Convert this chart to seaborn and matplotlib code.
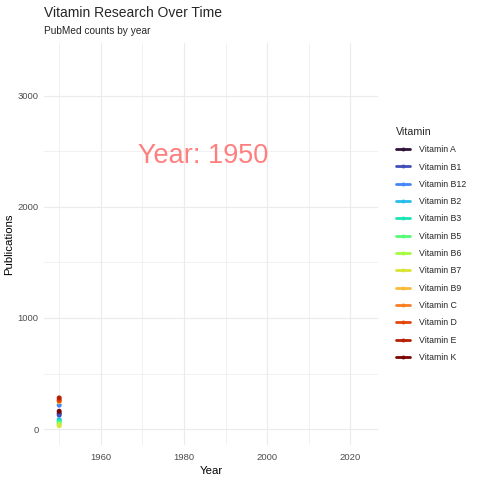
import numpy as np
import pandas as pd
import seaborn as sns
import matplotlib.pyplot as plt
from matplotlib.lines import Line2D
from matplotlib.ticker import MultipleLocator

# Frame of the animation: only year 1950 revealed so far
vitamins = ["Vitamin A", "Vitamin B1", "Vitamin B12", "Vitamin B2", "Vitamin B3",
            "Vitamin B5", "Vitamin B6", "Vitamin B7", "Vitamin B9", "Vitamin C",
            "Vitamin D", "Vitamin E", "Vitamin K"]
years = [1950] * 13
publications = [140, 125, 215, 85, 70, 55, 40, 30, 245, 265, 255, 280, 160]
frame_year = 1950

df = pd.DataFrame({"Year": years, "Vitamin": vitamins, "Publications": publications})

sns.set_theme(style="whitegrid")
plt.rcParams["font.family"] = ["Liberation Sans", "DejaVu Sans"]

colors = plt.get_cmap("turbo")(np.linspace(0, 1, len(vitamins)))
palette = dict(zip(vitamins, colors))

fig = plt.figure(figsize=(4.8, 4.8), dpi=100)
ax = fig.add_axes([44 / 480, 1 - 445 / 480, 334 / 480, 402 / 480])

sns.lineplot(data=df, x="Year", y="Publications", hue="Vitamin", palette=palette,
             linewidth=1, ax=ax, legend=False)
sns.scatterplot(data=df, x="Year", y="Publications", hue="Vitamin", palette=palette,
                s=13, linewidth=0, ax=ax, legend=False, zorder=3)

ax.set_xlim(1946.35, 2026.65)
ax.set_ylim(-144, 3477)
ax.xaxis.set_major_locator(MultipleLocator(20))
ax.xaxis.set_minor_locator(MultipleLocator(10))
ax.yaxis.set_major_locator(MultipleLocator(1000))
ax.yaxis.set_minor_locator(MultipleLocator(500))
ax.set_facecolor("white")
ax.grid(which="major", color="#EBEBEB", linewidth=0.8)
ax.grid(which="minor", color="#EBEBEB", linewidth=0.5)
for s in ax.spines.values():
    s.set_visible(False)
ax.tick_params(which="both", length=0, labelsize=6.8, labelcolor="#4D4D4D")
ax.tick_params(axis="x", pad=6)
ax.tick_params(axis="y", pad=4)

ax.set_xlabel("Year", fontsize=8.2, color="black", labelpad=3)
ax.set_ylabel("Publications", fontsize=8.2, color="black", labelpad=2)

ax.text(1984.5, 2400, f"Year: {frame_year}", fontsize=19.5, color="#FF7F7F",
        ha="center", va="baseline")

fig.text(44 / 480, 1 - 17 / 480, "Vitamin Research Over Time", fontsize=10,
         ha="left", va="baseline")
fig.text(44 / 480, 1 - 34 / 480, "PubMed counts by year", fontsize=7.3,
         ha="left", va="baseline")

handles = [Line2D([0], [0], color=palette[v], linewidth=2, marker="o",
                  markersize=1.8) for v in vitamins]
leg = fig.legend(handles, vitamins, title="Vitamin", loc="upper left",
                 bbox_to_anchor=(388 / 480, 1 - 119 / 480), frameon=False,
                 fontsize=6.3, title_fontsize=7.7, handlelength=1.6,
                 labelspacing=0.95, handletextpad=1.0, alignment="left")

fig.savefig("out.png", dpi=100, facecolor="white")
